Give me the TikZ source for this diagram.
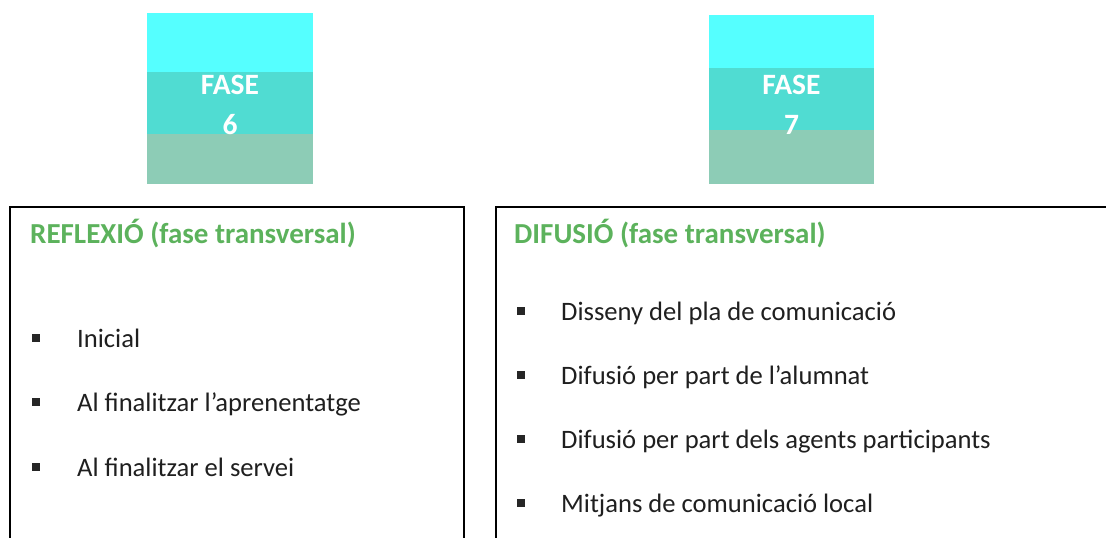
\documentclass[tikz,border=0pt]{standalone}
\usepackage{fontspec}
\setmainfont{Carlito}
\usetikzlibrary{positioning}

\definecolor{faseTop}{RGB}{85,255,255}
\definecolor{faseMid}{RGB}{80,220,210}
\definecolor{faseBot}{RGB}{141,204,182}
\definecolor{titolVerd}{RGB}{92,178,92}

\tikzset{
	fasetext/.style={text=white, font=\bfseries\fontsize{29.5}{40}\selectfont, align=center, inner sep=0pt},
	caixa/.style={draw=black, line width=1.6pt, anchor=north west, inner sep=0pt},
	titol/.style={text=titolVerd, font=\bfseries\fontsize{29}{34}\selectfont, anchor=base west, inner sep=0pt},
	item/.style={text=black!88, font=\fontsize{26.6}{31}\selectfont, anchor=base west, inner sep=0pt},
	punt/.style={fill=black!85, minimum width=8pt, minimum height=8pt, inner sep=0pt}
}

\begin{document}
\begin{tikzpicture}[x=1pt, y=-1pt]
	\useasboundingbox (0,0) rectangle (1106,538);
	
	% fase 6
	\fill[faseTop] (147,13) rectangle (313,72);
	\fill[faseMid] (147,72) rectangle (313,134);
	\fill[faseBot] (147,134) rectangle (313,184);
	\node[fasetext] (fase6) at (230,105) {FASE\\6};
	
	% fase 7
	\fill[faseTop] (709,15) rectangle (874,68);
	\fill[faseMid] (709,68) rectangle (874,130);
	\fill[faseBot] (709,130) rectangle (874,184);
	\node[fasetext] (fase7) at (791.5,105) {FASE\\7};
	
	% caixes
	\node[caixa, minimum width=454pt, minimum height=360pt] (reflexio) at (9,206) {};
	\node[caixa, minimum width=640pt, minimum height=360pt] (difusio) at (495,206) {};
	
	\node[titol] (titolR) at (30,243) {REFLEXIÓ (fase transversal)};
	\node[titol] (titolD) at (514,243) {DIFUSIÓ (fase transversal)};
	
	% llistes
	\foreach \txt [count=\i] in {Inicial, Al finalitzar l’aprenentatge, Al finalitzar el servei}{
		\node[item] (itemR\i) at (77,{347+(\i-1)*64.6}) {\txt};
		\node[punt] (puntR\i) at (35.8,{337.5+(\i-1)*64.6}) {};
	}
	\foreach \txt [count=\i] in {Disseny del pla de comunicació, Difusió per part de l’alumnat,
		Difusió per part dels agents participants, Mitjans de comunicació local}{
		\node[item] (itemD\i) at (561,{320+(\i-1)*64.2}) {\txt};
		\node[punt] (puntD\i) at (520.5,{310.7+(\i-1)*64.2}) {};
	}
\end{tikzpicture}
\end{document}
